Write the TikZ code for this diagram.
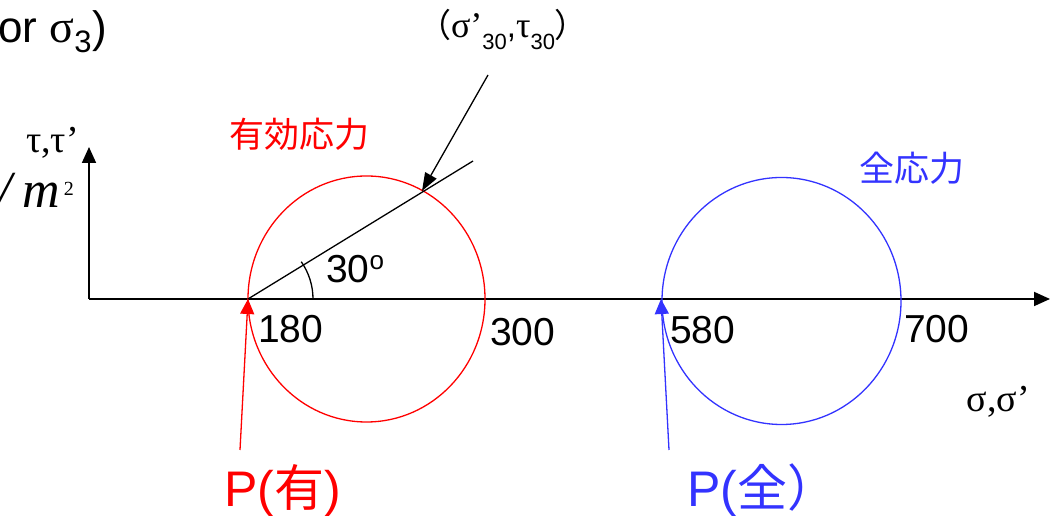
\documentclass[tikz,border=0pt]{standalone}
\usepackage{fontspec}
\setmainfont{Liberation Sans}
\newfontfamily\symfont{Liberation Serif}
\newfontfamily\jpfont{Noto Sans CJK JP}
\usetikzlibrary{arrows.meta}
\definecolor{effred}{RGB}{255,0,0}
\definecolor{totblue}{RGB}{51,51,255}
\tikzset{
  axisline/.style={draw=black,line width=1.8pt,-{Triangle[length=16pt,width=14pt]}},
  thinline/.style={draw=black,line width=1.3pt},
  effcircle/.style={draw=effred,line width=1.3pt},
  totcircle/.style={draw=totblue,line width=1.3pt},
  numtext/.style={font=\fontsize{39}{39}\selectfont,inner sep=0pt,anchor=base west},
  jptext/.style={font=\jpfont\fontsize{35}{35}\selectfont,inner sep=0pt},
  ptext/.style={font=\fontsize{50}{50}\selectfont,inner sep=0pt,anchor=base west},
}
\newcommand{\lowidx}[3]{\raisebox{-#2}{\fontsize{#1}{#1}\selectfont #3}}
\newcommand{\gk}[2]{{\symfont\fontsize{#1}{#1}\selectfont #2}}

\begin{document}
\begin{tikzpicture}[x=1pt,y=1pt]
        \useasboundingbox (0,0) rectangle (1052,516);
        % axes and points
        \coordinate (orig) at (89,217);
        \coordinate (xend) at (1050,217);
        \coordinate (yend) at (89,369);
        \coordinate (peffpt) at (248,217);
        \coordinate (ptotpt) at (661,217);
        \draw[axisline] (orig) -- (xend);
        \draw[axisline] (orig) -- (yend);
        % Mohr circles
        \draw[effcircle] (366.5,217) ellipse [x radius=118.5,y radius=123];
        \draw[totcircle] (781.5,215) ellipse [x radius=119.5,y radius=123.5];
        % 30 degree line
        \coordinate (lineend) at (473,355);
        \coordinate (hit) at (422,325);
        \coordinate (leadstart) at (488,441);
        \draw[thinline] (peffpt) -- (lineend);
        \draw[thinline] (peffpt) ++(0:65) arc (0:35:65);
        \draw[thinline,-{Triangle[length=18pt,width=13pt]}] (leadstart) -- (hit);
        % labels
        \node[numtext] (n180) at (258,173) {180};
        \node[numtext] (n300) at (490,170) {300};
        \node[numtext] (n580) at (670,172) {580};
        \node[numtext] (n700) at (904,173) {700};
        \node[numtext] (deg) at (326,233) {30\raisebox{13pt}{\fontsize{26}{26}\selectfont o}};
        \node[jptext,text=effred] (efflab) at (299,382) {有効応力};
        \node[jptext,text=totblue] (totlab) at (912,348) {全応力};
        \node[font=\fontsize{33}{33}\selectfont,inner sep=0pt,anchor=base] (ptlab) at (503,478)
              {{\jpfont （}\gk{36}{σ’}\lowidx{22}{12pt}{30},\gk{36}{τ}\lowidx{22}{12pt}{30}{\jpfont ）}};
        \node[font=\symfont\fontsize{38}{38}\selectfont,inner sep=0pt,anchor=base east] (xlab) at (1030,104) {σ,σ’};
        \node[font=\symfont\fontsize{38}{38}\selectfont,inner sep=0pt,anchor=base east] (ylab) at (79,363) {τ,τ’};
        \node[font=\symfont\itshape\fontsize{52}{52}\selectfont,inner sep=0pt,anchor=base east] (unit) at (74,308)
              {/\kern10pt m\kern4pt\raisebox{12pt}{\fontsize{20}{20}\selectfont\upshape 2}};
        \node[font=\fontsize{44}{44}\selectfont,inner sep=0pt,anchor=base west] (orlab) at (-2,473)
              {or \gk{46}{σ}\lowidx{31}{10pt}{3}\kern1pt)};
        % pole arrows
        \node[ptext,text=effred] (peff) at (224,9) {P(\jpfont 有\rmfamily)};
        \node[ptext,text=totblue] (ptot) at (687,9) {P(\jpfont 全）};
        \coordinate (peffstart) at (240,66);
        \coordinate (ptotstart) at (669,66);
        \draw[effred,line width=1.3pt,-{Triangle[length=15pt,width=14pt]}] (peffstart) -- (peffpt);
        \draw[totblue,line width=1.3pt,-{Triangle[length=15pt,width=14pt]}] (ptotstart) -- (ptotpt);
      \end{tikzpicture}
\end{document}
